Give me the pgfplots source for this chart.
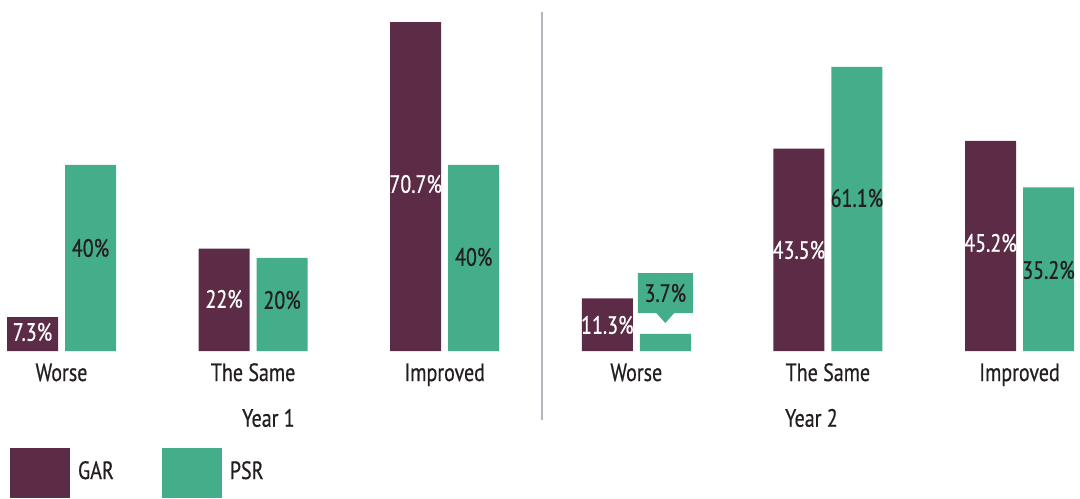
\documentclass[border=0pt]{standalone}
\usepackage{fontspec}
\setmainfont{PT Sans}[FakeStretch=0.8, FakeBold=0.6]
\usepackage{pgfplots}
\pgfplotsset{compat=1.18}
\usepackage{pgfplotstable}
\usetikzlibrary{shapes.callouts}
\definecolor{gar}{HTML}{5C2B46}
\definecolor{psr}{HTML}{44AD89}
\definecolor{txt}{HTML}{231F20}
\definecolor{sepc}{HTML}{B4B4BC}
\newcommand\lf{\fontsize{12.5}{14}\selectfont}

% bar values (x = category index: 0-2 Year 1, 3-5 Year 2)
\pgfplotstableread{
x y
0 7.3
1 22
2 70.7
3 11.3
4 43.5
5 45.2
}\gardata
\pgfplotstableread{
x y
0 40
1 20
2 40
3 3.7
4 61.1
5 35.2
}\psrdata
% label positions
\pgfplotstableread{
x ly m
0 4.09 7.3
1 11.18 22
2 35.91 70.7
3 5.59 11.3
4 21.72 43.5
5 23.23 45.2
}\garlab
\pgfplotstableread{
x ly m
0 22.15 40
1 10.97 20
2 20.22 40
4 32.9 61.1
5 17.42 35.2
}\psrlab

\begin{document}
\begin{tikzpicture}
\begin{axis}[
  scale only axis, width=540pt, height=175.5pt,
  xmin=-0.321, xmax=5.3158, ymin=0, ymax=75.48,
  clip=false,
  axis line style={draw=none}, tick style={draw=none},
  ytick=\empty,
  xtick={0,1,2,3,4,5},
  xticklabels={Worse,The Same,Improved,Worse,The Same,Improved},
  xticklabel style={text=txt, font=\lf, anchor=base, yshift=-15pt},
  legend style={at={(rel axis cs:0.009259,-0.27635)}, anchor=north west,
    draw=none, fill=none, inner sep=0pt, outer sep=0pt,
    nodes={inner sep=0pt, text=txt, font=\lf},
    column sep=4pt,
    /tikz/every even column/.append style={column sep=24pt}},
  legend columns=2,
  legend cell align=left,
  legend image code/.code={\fill[#1] (0pt,-13.2pt) rectangle (30pt,11.8pt);},
]
\addplot[ybar, bar width=25.5pt, bar shift=-14.5pt, fill=gar, draw=none] table[x=x,y=y]{\gardata};
\addlegendentry{GAR}
\addplot[ybar, bar width=25.5pt, bar shift=14.5pt, fill=psr, draw=none] table[x=x,y=y]{\psrdata};
\addlegendentry{PSR}

\addplot[forget plot, only marks, mark=*, mark size=0pt, mark options={draw=none, fill=none},
  point meta=explicit symbolic, nodes near coords={\pgfplotspointmeta\%},
  every node near coord/.style={anchor=center, text=white, font=\lf, xshift=-14.5pt, inner sep=0pt}]
  table[x=x, y=ly, meta=m]{\garlab};
\addplot[forget plot, only marks, mark=*, mark size=0pt, mark options={draw=none, fill=none},
  point meta=explicit symbolic, nodes near coords={\pgfplotspointmeta\%},
  every node near coord/.style={anchor=center, text=txt, font=\lf, xshift=14.5pt, inner sep=0pt}]
  table[x=x, y=ly, meta=m]{\psrlab};
\addplot[forget plot, only marks, mark=*, mark size=0pt, mark options={draw=none, fill=none},
  point meta=explicit symbolic, nodes near coords={\pgfplotspointmeta\%},
  every node near coord/.style={shape=rectangle callout, fill=psr, text=txt, font=\lf,
    minimum width=27.5pt, minimum height=20pt, inner sep=0pt, anchor=center, xshift=14.5pt,
    callout relative pointer={(0pt,-5pt)}, callout pointer width=9pt}]
  coordinates {(3,12.47) [3.7]};

\draw[sepc, line width=1pt] (axis cs:2.508,72.9) -- (axis cs:2.508,-14.84);
\node[text=txt, font=\lf, anchor=center] at (axis cs:1.080,-14.4) {Year 1};
\node[text=txt, font=\lf, anchor=center] at (axis cs:3.914,-14.4) {Year 2};
\end{axis}
\pgfresetboundingbox
\path[use as bounding box] (0pt,-73.5pt) rectangle (540pt,175.5pt);
\end{tikzpicture}
\end{document}
